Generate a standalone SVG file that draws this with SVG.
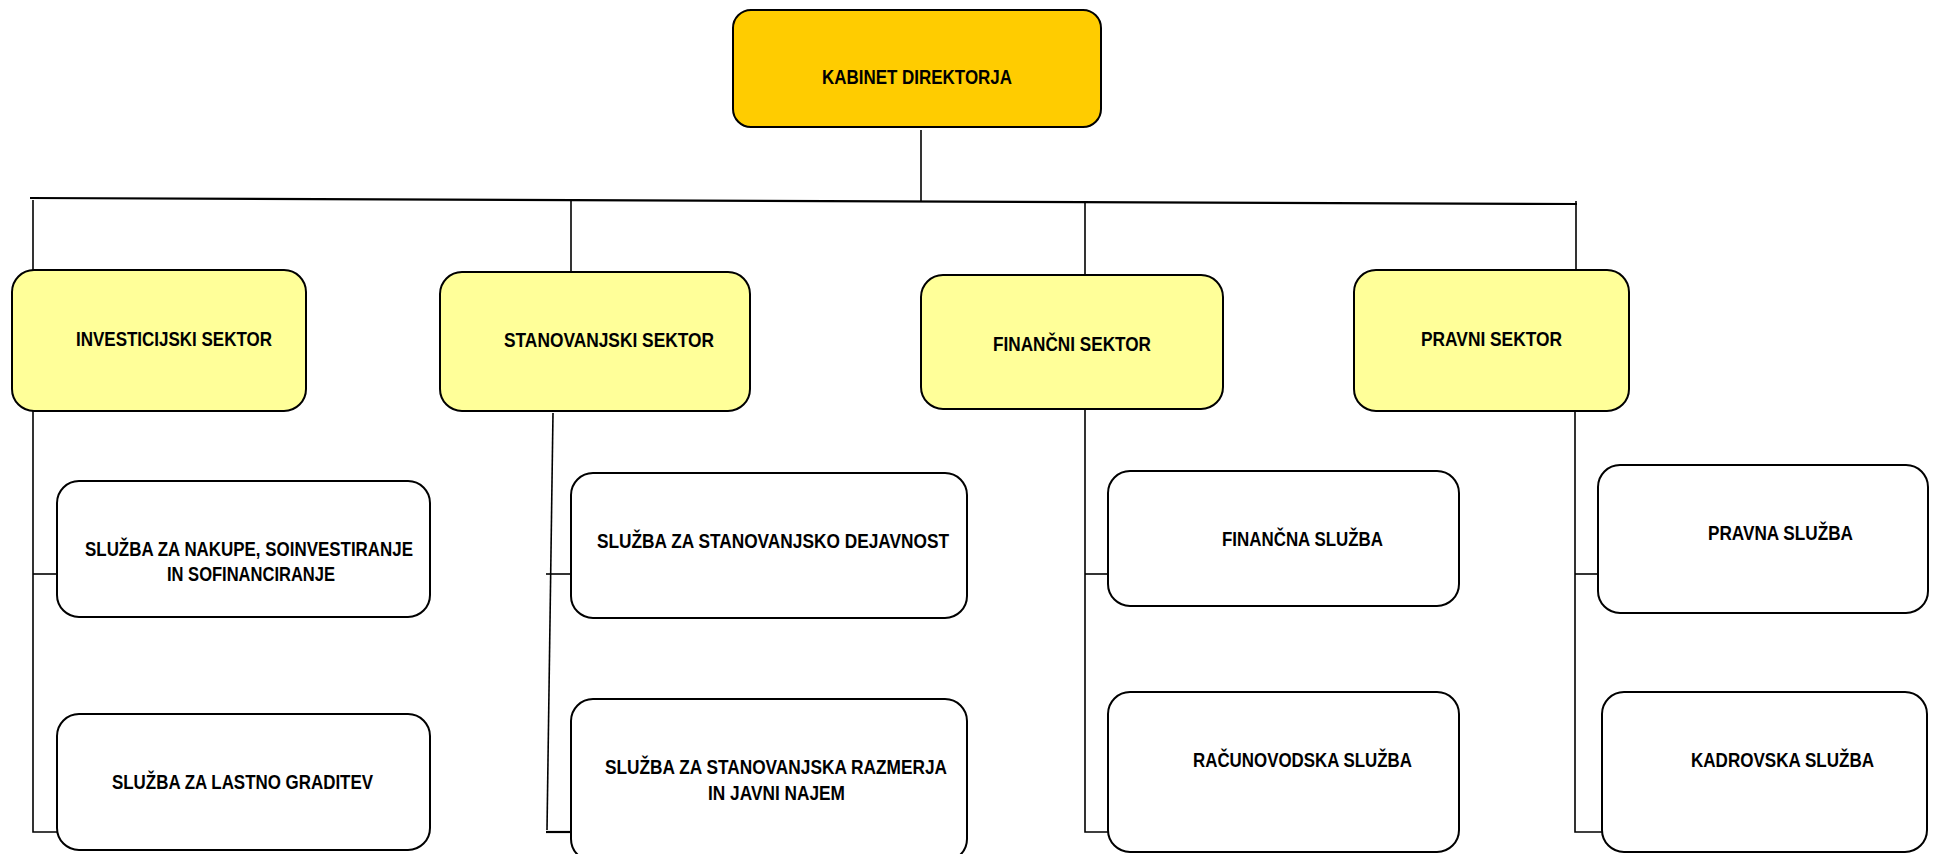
<svg xmlns="http://www.w3.org/2000/svg" width="1937" height="854" viewBox="0 0 1937 854">
<style>
  .box { stroke: #000; stroke-width: 2; }
  .top { fill: #FFCC00; }
  .sec { fill: #FFFF99; }
  .srv { fill: #FFFFFF; }
  .t { font-family: "Liberation Sans", Arial, sans-serif; font-weight: bold; font-size: 19.5px; fill: #000; }
  .c { stroke: #000; stroke-width: 1.6; fill: none; }
  .main { stroke: #000; stroke-width: 2.2; fill: none; }
</style>
<rect width="1937" height="854" fill="#FFFFFF"/>
<g id="connectors">
  <line class="c" x1="921" y1="130" x2="921" y2="201"/>
  <line class="main" x1="30" y1="198" x2="1577" y2="204"/>
  <line class="c" x1="33" y1="200" x2="33" y2="270"/>
  <line class="c" x1="571" y1="201" x2="571" y2="272"/>
  <line class="c" x1="1085" y1="201" x2="1085" y2="275"/>
  <line class="c" x1="1576" y1="201" x2="1576" y2="270"/>
  <polyline class="c" points="33,411 33,832 57,832"/>
  <line class="c" x1="33" y1="574" x2="57" y2="574"/>
  <polyline class="c" points="553,413 547,830"/>
  <line class="main" x1="546" y1="832" x2="571" y2="832"/>
  <line class="c" x1="546" y1="574" x2="571" y2="574"/>
  <polyline class="c" points="1085,409 1085,832 1108,832"/>
  <line class="c" x1="1085" y1="574" x2="1108" y2="574"/>
  <polyline class="c" points="1575,411 1575,832 1602,832"/>
  <line class="c" x1="1575" y1="574" x2="1598" y2="574"/>
</g>
<g id="kabinet">
  <rect class="box top" x="733" y="10" width="368" height="117" rx="18"/>
  <text class="t" x="822" y="84" textLength="190" lengthAdjust="spacingAndGlyphs">KABINET DIREKTORJA</text>
</g>
<g id="investicijski">
  <rect class="box sec" x="12" y="270" width="294" height="141" rx="22"/>
  <text class="t" x="76" y="346" textLength="196" lengthAdjust="spacingAndGlyphs">INVESTICIJSKI SEKTOR</text>
</g>
<g id="stanovanjski">
  <rect class="box sec" x="440" y="272" width="310" height="139" rx="22"/>
  <text class="t" x="504" y="347" textLength="210" lengthAdjust="spacingAndGlyphs">STANOVANJSKI SEKTOR</text>
</g>
<g id="financni">
  <rect class="box sec" x="921" y="275" width="302" height="134" rx="22"/>
  <text class="t" x="993" y="351" textLength="158" lengthAdjust="spacingAndGlyphs">FINANČNI SEKTOR</text>
</g>
<g id="pravni">
  <rect class="box sec" x="1354" y="270" width="275" height="141" rx="22"/>
  <text class="t" x="1421" y="346" textLength="141" lengthAdjust="spacingAndGlyphs">PRAVNI SEKTOR</text>
</g>
<g id="nakupe">
  <rect class="box srv" x="57" y="481" width="373" height="136" rx="22"/>
  <text class="t" x="85" y="556" textLength="328" lengthAdjust="spacingAndGlyphs">SLUŽBA ZA NAKUPE, SOINVESTIRANJE</text>
  <text class="t" x="167" y="581" textLength="168" lengthAdjust="spacingAndGlyphs">IN SOFINANCIRANJE</text>
</g>
<g id="lastno">
  <rect class="box srv" x="57" y="714" width="373" height="136" rx="22"/>
  <text class="t" x="112" y="789" textLength="261" lengthAdjust="spacingAndGlyphs">SLUŽBA ZA LASTNO GRADITEV</text>
</g>
<g id="dejavnost">
  <rect class="box srv" x="571" y="473" width="396" height="145" rx="22"/>
  <text class="t" x="597" y="548" textLength="352" lengthAdjust="spacingAndGlyphs">SLUŽBA ZA STANOVANJSKO DEJAVNOST</text>
</g>
<g id="razmerja">
  <rect class="box srv" x="571" y="699" width="396" height="162" rx="22"/>
  <text class="t" x="605" y="774" textLength="342" lengthAdjust="spacingAndGlyphs">SLUŽBA ZA STANOVANJSKA RAZMERJA</text>
  <text class="t" x="708" y="800" textLength="137" lengthAdjust="spacingAndGlyphs">IN JAVNI NAJEM</text>
</g>
<g id="financna">
  <rect class="box srv" x="1108" y="471" width="351" height="135" rx="22"/>
  <text class="t" x="1222" y="546" textLength="161" lengthAdjust="spacingAndGlyphs">FINANČNA SLUŽBA</text>
</g>
<g id="racunovodska">
  <rect class="box srv" x="1108" y="692" width="351" height="160" rx="22"/>
  <text class="t" x="1193" y="767" textLength="219" lengthAdjust="spacingAndGlyphs">RAČUNOVODSKA SLUŽBA</text>
</g>
<g id="pravna">
  <rect class="box srv" x="1598" y="465" width="330" height="148" rx="22"/>
  <text class="t" x="1708" y="540" textLength="145" lengthAdjust="spacingAndGlyphs">PRAVNA SLUŽBA</text>
</g>
<g id="kadrovska">
  <rect class="box srv" x="1602" y="692" width="325" height="160" rx="22"/>
  <text class="t" x="1691" y="767" textLength="183" lengthAdjust="spacingAndGlyphs">KADROVSKA SLUŽBA</text>
</g>
</svg>
